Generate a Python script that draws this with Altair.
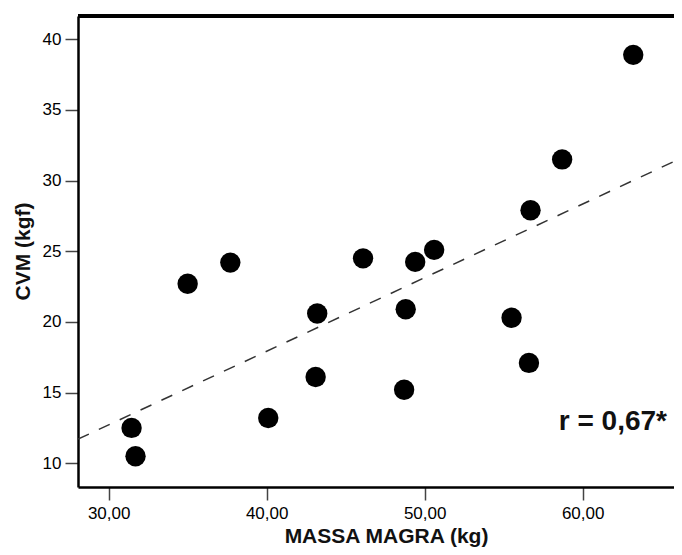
import altair as alt
import pandas as pd

# Data
massa_magra = [63.2, 58.7, 56.7, 50.6, 49.4, 46.1, 37.7, 35.0, 43.2, 48.8,
               55.5, 56.6, 43.1, 48.7, 40.1, 31.45, 31.7]
cvm = [38.9, 31.5, 27.9, 25.1, 24.25, 24.5, 24.2, 22.7, 20.6, 20.9,
       20.3, 17.1, 16.1, 15.2, 13.2, 12.5, 10.5]
x_ticks = [30, 40, 50, 60]
y_ticks = [10, 15, 20, 25, 30, 35, 40]
annotation = "r = 0,67*"

df = pd.DataFrame({"x": massa_magra, "y": cvm})

X_DOMAIN = [28.06, 65.78]
Y_DOMAIN = [8.32, 41.65]
W, H = 596, 471
FONT = "Liberation Sans"

x_enc = alt.X(
    "x:Q",
    scale=alt.Scale(domain=X_DOMAIN, nice=False, zero=False),
    axis=alt.Axis(
        title="MASSA MAGRA (kg)",
        values=x_ticks,
        labelExpr="replace(format(datum.value, '.2f'), '.', ',')",
        titleX=308, titleY=55, titleAlign="center", titleBaseline="alphabetic",
        labelPadding=5,
    ),
)
y_enc = alt.Y(
    "y:Q",
    scale=alt.Scale(domain=Y_DOMAIN, nice=False, zero=False),
    axis=alt.Axis(
        title="CVM (kgf)",
        values=y_ticks,
        titleX=-49, titleY=235, titleAngle=270, titleAlign="center",
        titleBaseline="alphabetic",
        labelPadding=4,
    ),
)

base = alt.Chart(df)

points = base.mark_circle(size=415, color="black", opacity=1).encode(x=x_enc, y=y_enc)

reg = base.transform_regression(
    "x", "y", extent=[28.06, 66.3]
).mark_line(color="#333333", strokeWidth=1.5, strokeDash=[12, 11], clip=True).encode(
    x=alt.X("x:Q", scale=alt.Scale(domain=X_DOMAIN, nice=False, zero=False)),
    y=alt.Y("y:Q", scale=alt.Scale(domain=Y_DOMAIN, nice=False, zero=False)),
)

top_border = alt.Chart(df).mark_rule(color="black", strokeWidth=2.5).encode(
    x=alt.value(0), x2=alt.value(W), y=alt.value(0)
)

label = alt.Chart(pd.DataFrame({"t": [annotation]})).mark_text(
    font=FONT, fontSize=28, fontWeight="bold", align="right", baseline="alphabetic",
    color="#111111",
).encode(x=alt.value(589), y=alt.value(414), text="t:N")

chart = alt.layer(reg, points, top_border, label).properties(
    width=W, height=H,
    padding={"left": 70, "top": 8, "right": 0, "bottom": 60},
    autosize=alt.AutoSizeParams(type="none"),
).configure_view(stroke=None).configure_axis(
    grid=False,
    domainColor="black", domainWidth=2.5,
    tickColor="#444444", tickWidth=1.5, tickSize=13,
    labelFont=FONT, labelFontSize=17, labelColor="black",
    titleFont=FONT, titleFontSize=21, titleFontWeight="bold", titleColor="#111111",
)

chart.save("out.html", embed_options={"renderer": "svg", "actions": False})
